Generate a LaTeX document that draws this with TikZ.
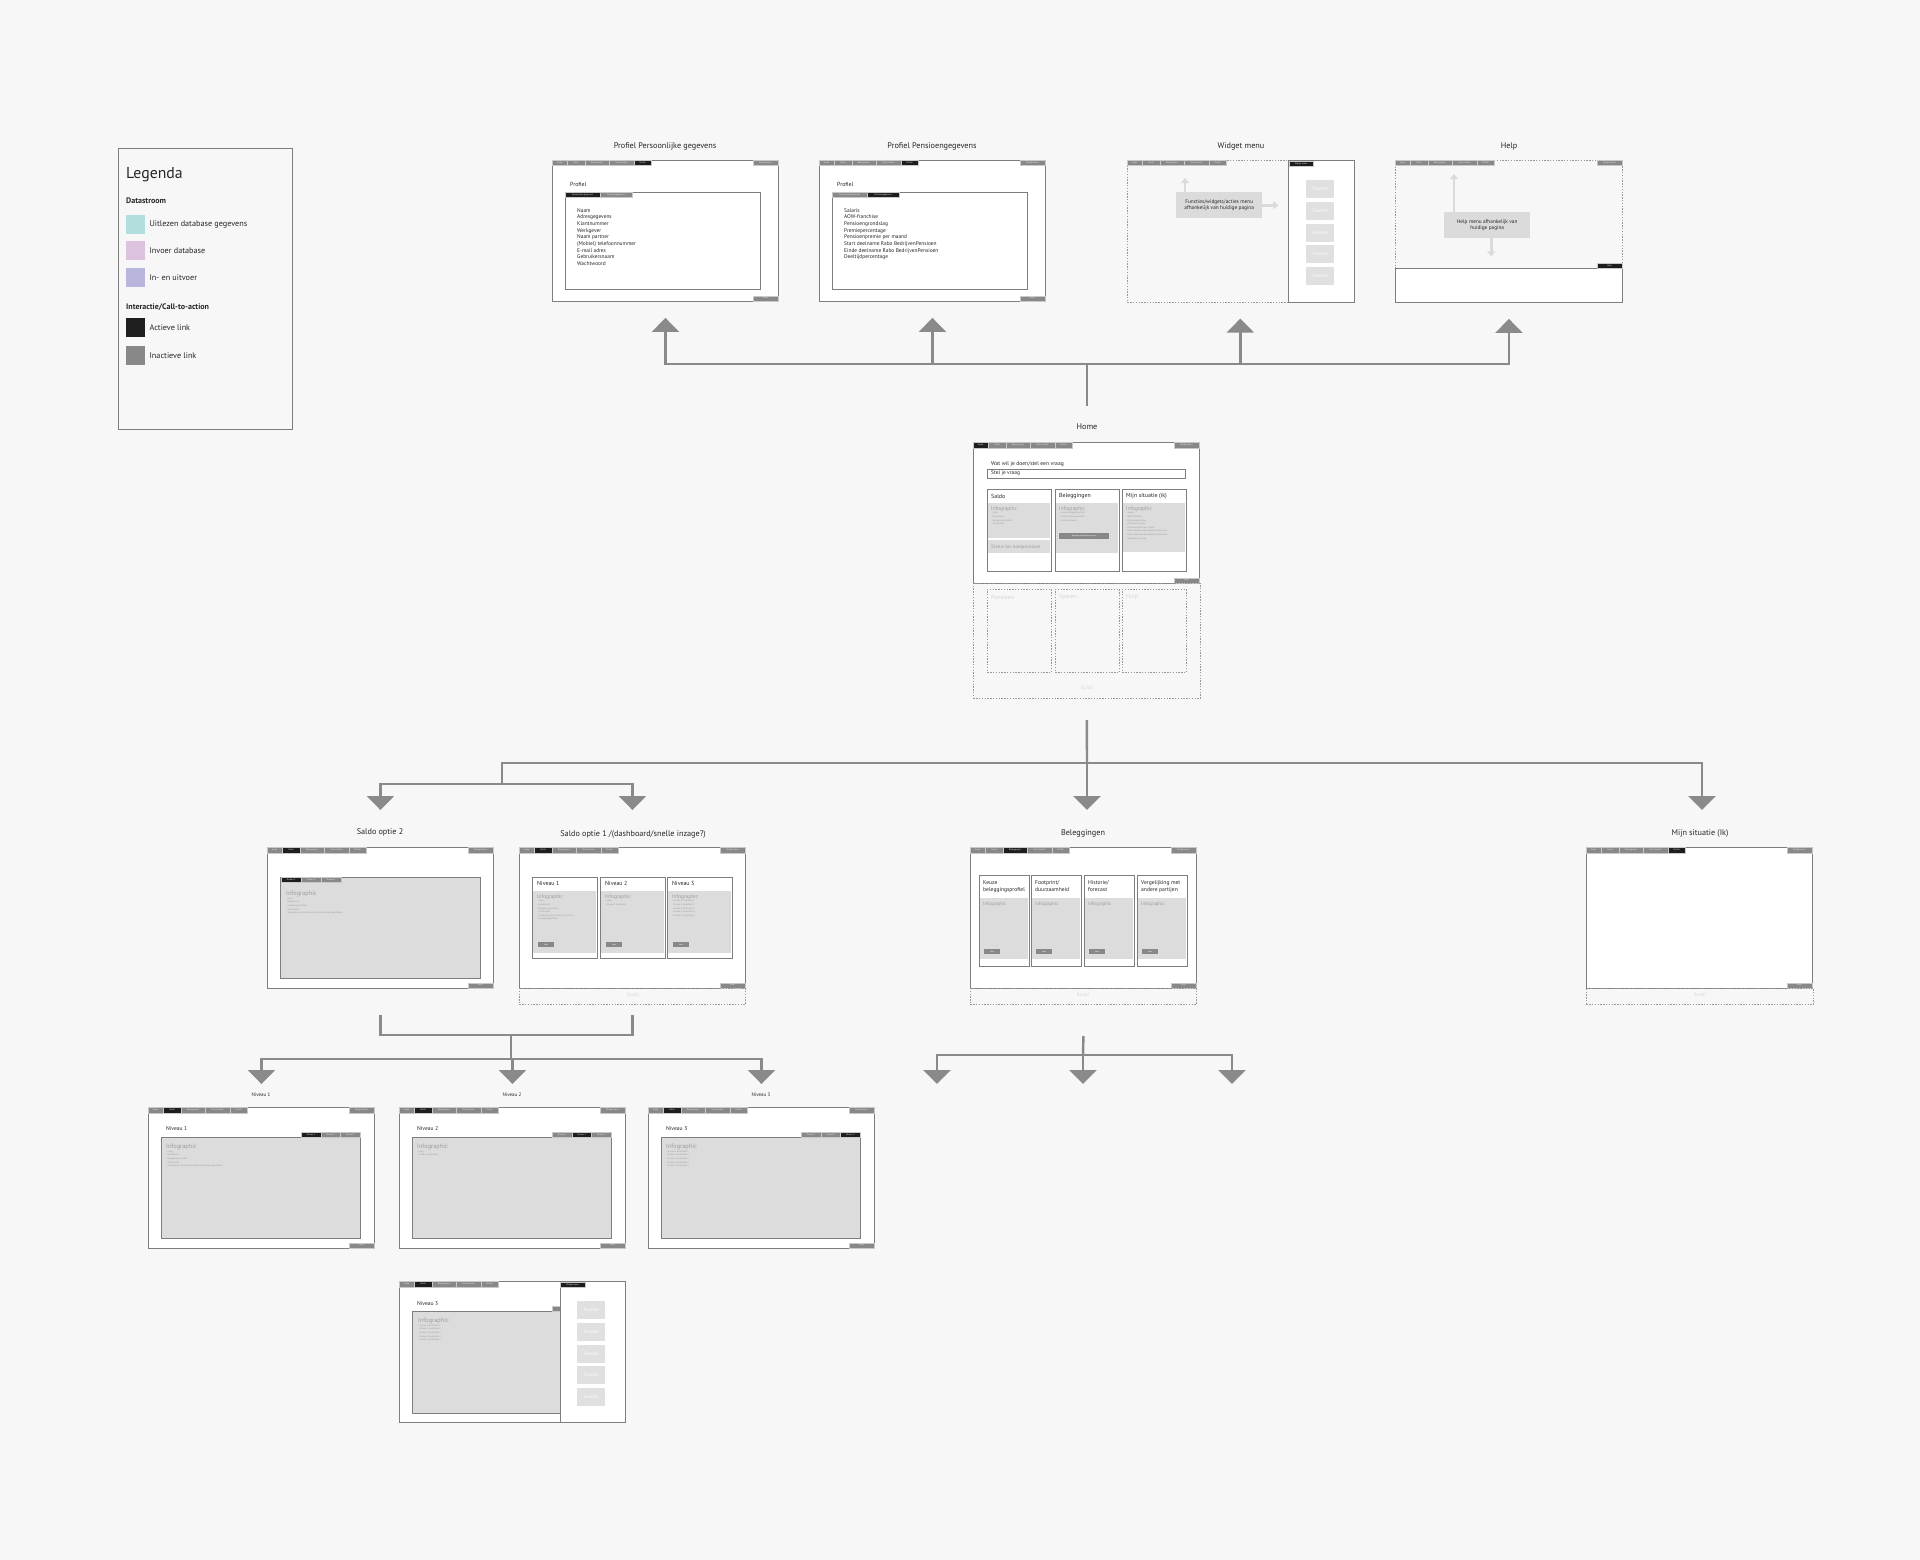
\documentclass[tikz,border=0pt]{standalone}
\usepackage{fontspec}
\setmainfont{PT Sans}
\usetikzlibrary{arrows.meta,positioning}

\definecolor{bgcol}{HTML}{F7F7F7}
\definecolor{framecol}{HTML}{7E7E7E}
\definecolor{tabgrey}{HTML}{888888}
\definecolor{tabdark}{HTML}{1E1E1E}
\definecolor{infocol}{HTML}{DCDCDC}
\definecolor{hintcol}{HTML}{DBDBDB}
\definecolor{funccol}{HTML}{E0E0E0}
\definecolor{flowcol}{HTML}{8A8A8A}
\definecolor{txtcol}{HTML}{262626}
\definecolor{faintcol}{HTML}{9C9C9C}
\definecolor{scrollcol}{HTML}{D4D4D4}
\definecolor{leg1}{HTML}{B3DEDE}
\definecolor{leg2}{HTML}{DDC2DF}
\definecolor{leg3}{HTML}{B8B6DD}

\newcommand{\fs}[2]{\fontsize{#1}{#2}\selectfont}

\tikzset{
  frame/.style={draw=framecol, line width=0.9pt, fill=white, inner sep=0pt,
    minimum width=226pt, minimum height=141pt, anchor=north west},
  panel/.style={draw=framecol, line width=0.9pt, fill=white, inner sep=0pt, anchor=north west},
  scrbox/.style={draw=framecol!80, dash pattern=on 1.4pt off 1.4pt, line width=0.6pt, inner sep=0pt, anchor=north west},
  tab/.style={inner sep=0pt, minimum height=5.5pt, text=white!85!tabgrey, font=\fs{2.2}{2.6},
    draw=white!55!tabgrey, line width=0.15pt, anchor=north west},
  sheet/.style={draw=framecol, line width=0.7pt, inner sep=0pt, anchor=north west},
  grey area/.style={fill=infocol, inner sep=0pt, anchor=north west},
  scrtitle/.style={font=\fs{8.2}{9.8}, text=txtcol, inner sep=0pt},
  subtitle/.style={font=\fs{5}{6}, text=txtcol, inner sep=0pt},
  lbltext/.style={font=\fs{5.9}{7}, text=txtcol, inner sep=0pt, anchor=west},
  plist/.style={font=\fs{5.4}{6.7}, text=txtcol, inner sep=0pt, anchor=north west, align=left},
  info/.style={font=\fs{5.3}{6.4}, text=faintcol, inner sep=0pt, anchor=west},
  bullets/.style={font=\fs{2.3}{3.6}, text=faintcol, inner sep=0pt, anchor=north west, align=left},
  btn/.style={fill=tabgrey, inner sep=0pt, minimum height=5pt, text=white, font=\fs{2}{2.4}, anchor=north west},
  func/.style={fill=funccol, inner sep=0pt, minimum width=28pt, minimum height=18pt,
    text=white, font=\fs{4.8}{5.4}, anchor=north west},
  hint/.style={fill=hintcol, inner sep=0pt, minimum width=86pt, minimum height=26pt,
    font=\fs{5.3}{6.6}, text=txtcol, align=center, anchor=north west},
  hintarrow/.style={draw=hintcol, line width=2.6pt, -{Triangle[width=8pt,length=5pt]}},
  scrolltxt/.style={font=\fs{5}{6}, text=scrollcol, inner sep=0pt},
  flowline/.style={draw=flowcol, line width=2.4pt},
  flow/.style={flowline, -{Triangle[width=27pt,length=14pt]}},
  swatch/.style={minimum size=19pt, inner sep=0pt, anchor=north west},
  legtext/.style={font=\fs{8.2}{9.5}, text=txtcol, anchor=west, inner sep=0pt},
  leghead/.style={font=\fs{8}{9.5}\bfseries, text=txtcol, anchor=west, inner sep=0pt},
}

% tab bar of a screen: name, x, y, active tab (0 = none)
\newcommand{\navbar}[4]{%
  \foreach \lbl/\dx/\w [count=\i] in {Home/0/15,Saldo/15/18,Beleggingen/33/24,Mijn situatie/57/25,Profiel/82/17}{
    \ifnum\i=#4\relax\colorlet{tabfill}{tabdark}\else\colorlet{tabfill}{tabgrey}\fi
    \node[tab, fill=tabfill, minimum width=\w pt] (#1-t\i) at (#2+\dx,#3) {\lbl};
  }}

% screen with tab bar, widget menu and help button
\newcommand{\wscreen}[4]{%
  \node[frame] (#1) at (#2,#3) {};
  \navbar{#1}{#2}{#3}{#4}
  \node[tab, fill=tabgrey, minimum width=25pt, anchor=north east] (#1-wm) at (#2+226,#3) {Widget menu};
  \node[tab, fill=tabgrey, minimum width=25pt, minimum height=5pt, anchor=south east] (#1-hb) at (#2+226,#3+141) {Help};
}

\begin{document}
\begin{tikzpicture}[x=1pt,y=-1pt]
\path[use as bounding box, fill=bgcol] (0,0) rectangle (1920,1560);

% legenda
\node[draw=framecol, line width=0.7pt, inner sep=0pt, minimum width=174pt, minimum height=281pt, anchor=north west] (legend) at (118,148) {};
\node[font=\fs{15.8}{17}, text=txtcol, anchor=west, inner sep=0pt] (leg-title) at (126,175) {Legenda};
\node[leghead] (leg-data) at (126,201) {Datastroom};
\node[leghead] (leg-cta) at (126,307) {Interactie/Call-to-action};
\foreach \nm/\col/\yy/\txt in {read/leg1/215/Uitlezen database gegevens, write/leg2/241/Invoer database, io/leg3/268/In- en uitvoer, act/tabdark/318/Actieve link, inact/tabgrey/346/Inactieve link}{
  \node[swatch, fill=\col] (leg-\nm) at (126,\yy) {};
  \node[legtext, right=4pt of leg-\nm] (leg-\nm-txt) {\txt};
}

% profiel persoonlijk
\node[scrtitle] (pers-lbl) at (665,146) {Profiel Persoonlijke gegevens};
\wscreen{pers}{552}{160}{5}
\node[lbltext] (pers-head) at (570,184) {Profiel};
\node[sheet, minimum width=195pt, minimum height=97pt] (pers-box) at (565,192) {};
\node[tab, fill=tabdark, minimum width=35pt, minimum height=5pt] (pers-tab1) at (565,192) {Persoonlijke gegevens};
\node[tab, fill=tabgrey, minimum width=32pt, minimum height=5pt] (pers-tab2) at (600,192) {Pensioengegevens};
\node[plist] (pers-list) at (577,208) {Naam\\Adresgegevens\\Klantnummer\\Werkgever\\Naam partner\\(Mobiel) telefoonnummer\\E-mail adres\\Gebruikersnaam\\Wachtwoord};

% profiel pensioen
\node[scrtitle] (pens-lbl) at (932,146) {Profiel Pensioengegevens};
\wscreen{pens}{819}{160}{5}
\node[lbltext] (pens-head) at (837,184) {Profiel};
\node[sheet, minimum width=195pt, minimum height=97pt] (pens-box) at (832,192) {};
\node[tab, fill=tabgrey, minimum width=35pt, minimum height=5pt] (pens-tab1) at (832,192) {Persoonlijke gegevens};
\node[tab, fill=tabdark, minimum width=32pt, minimum height=5pt] (pens-tab2) at (867,192) {Pensioengegevens};
\node[plist] (pens-list) at (844,208) {Salaris\\AOW-franchise\\Pensioengrondslag\\Premiepercentage\\Pensioenpremie per maand\\Start deelname Rabo BedrijvenPensioen\\Einde deelname Rabo BedrijvenPensioen\\Deeltijdpercentage};

% widget menu
\node[scrtitle] (wid-lbl) at (1241,146) {Widget menu};
\node[scrbox, minimum width=226pt, minimum height=142pt] (wid) at (1127,160) {};
\navbar{wid}{1127}{160}{0}
\node[panel, minimum width=66pt, minimum height=142pt] (wid-panel) at (1288,160) {};
\node[tab, fill=tabdark, minimum width=24pt] (wid-wm) at (1289,161) {Widget menu};
\foreach \fy [count=\k] in {180,202,224,245,267}
  \node[func] (wid-f\k) at (1306,\fy) {Functie};
\node[hint] (wid-hint) at (1176,192) {Functies/widgets/acties menu\\afhankelijk van huidige pagina};
\draw[hintarrow] ([xshift=9pt]wid-hint.north west) -- ++(0,-14);
\draw[hintarrow] (wid-hint.east) -- ++(16,0);

% help
\node[scrtitle] (help-lbl) at (1509,146) {Help};
\node[scrbox, minimum width=227pt, minimum height=108pt] (help) at (1395,160) {};
\navbar{help}{1395}{160}{0}
\node[tab, fill=tabgrey, minimum width=25pt, anchor=north east] (help-wm) at (1622,160) {Widget menu};
\node[panel, minimum width=227pt, minimum height=34pt] (help-panel) at (1395,268) {};
\node[tab, fill=tabdark, minimum width=25pt, minimum height=4.5pt, anchor=south east] (help-hb) at (1622,268) {Help};
\node[hint] (help-hint) at (1444,212) {Help menu afhankelijk van\\huidige pagina};
\draw[hintarrow] ([xshift=10pt]help-hint.north west) -- ++(0,-38);
\draw[hintarrow] ([xshift=4pt]help-hint.south) -- ++(0,18);

% home
\node[scrtitle] (home-lbl) at (1087,427) {Home};
\wscreen{home}{973}{442}{1}
\node[scrbox, minimum width=227pt, minimum height=115pt] (home-scroll) at (973,583) {};
\node[scrolltxt] (home-scroll-txt) at (1087,688) {Scroll};
\node[lbltext, font=\fs{5.6}{6.6}] (home-ask-lbl) at (991,464) {Wat wil je doen/stel een vraag};
\node[sheet, minimum width=198pt, minimum height=9pt] (home-ask) at (987,469) {};
\node[lbltext, font=\fs{5.4}{6.4}] (home-ask-txt) at (991,473.5) {Stel je vraag};
\foreach \nm/\xx/\ttl in {saldo/987/Saldo, beleg/1055/Beleggingen, mijn/1122/Mijn situatie (ik)}{
  \node[sheet, fill=white, minimum width=64pt, minimum height=82pt] (home-\nm) at (\xx,489) {};
  \node[lbltext] (home-\nm-ttl) at (\xx+4,496) {\ttl};
}
\node[grey area, minimum width=62pt, minimum height=35pt] (home-saldo-g) at (988,503) {};
\node[grey area, minimum width=62pt, minimum height=13pt] (home-saldo-s) at (988,540) {};
\node[info] (home-saldo-i) at (991,509) {Infographic};
\node[bullets] (home-saldo-b) at (991,512) {- Inleg\\- Rendement\\- Beleggingsresultaat\\- Totaal saldo};
\node[info, font=\fs{4.8}{5.6}] (home-saldo-st) at (991,547) {Status tov doelpensioen};
\node[grey area, minimum width=62pt, minimum height=50pt] (home-beleg-g) at (1056,503) {};
\node[info] (home-beleg-i) at (1059,509) {Infographic};
\node[bullets] (home-beleg-b) at (1059,512) {- Huidig beleggingsprofiel\\- Footprint/duurzaamheid\\- Historie/forecast};
\node[btn, minimum width=50pt, minimum height=5.5pt] (home-beleg-btn) at (1059,533) {Beleggingsprofiel aanpassen};
\node[grey area, minimum width=62pt, minimum height=49pt] (home-mijn-g) at (1123,503) {};
\node[info] (home-mijn-i) at (1126,509) {Infographic};
\node[bullets] (home-mijn-b) at (1126,512) {- Salaris\\- AOW-franchise\\- Pensioengrondslag\\- Premiepercentage\\- Pensioenpremie per maand\\- Start deelname Rabo BedrijvenPensioen\\- Einde deelname Rabo BedrijvenPensioen\\- Deeltijdpercentage};
\foreach \nm/\xx/\ttl in {pens/987/Pensioen, spaar/1055/Sparen, hulp/1122/Hulp}{
  \node[scrbox, minimum width=64pt, minimum height=83pt] (home-\nm) at (\xx,589) {};
  \node[lbltext, text=scrollcol] (home-\nm-ttl) at (\xx+4,597) {\ttl};
}

% saldo optie 2
\node[scrtitle] (sal2-lbl) at (380,832) {Saldo optie 2};
\wscreen{sal2}{267}{847}{2}
\node[sheet, fill=infocol, minimum width=200pt, minimum height=101pt] (sal2-box) at (280,877) {};
\foreach \k/\xx in {1/281,2/301,3/321}{
  \ifnum\k=1\relax\colorlet{tabfill}{tabdark}\else\colorlet{tabfill}{tabgrey}\fi
  \node[tab, fill=tabfill, minimum width=20pt, minimum height=5pt] (sal2-n\k) at (\xx,877) {Niveau \k};
}
\node[info, font=\fs{6.3}{7}] (sal2-i) at (286,894) {Infographic};
\node[bullets] (sal2-b) at (286,897.5) {- Inleg\\- Rendement\\- Beleggingsresultaat\\- Totaal saldo\\- Vergelijking met andere partijen en beleggingsprofielen};

% saldo optie 1
\node[scrtitle] (sal1-lbl) at (633,834) {Saldo optie 1 /(dashboard/snelle inzage?)};
\wscreen{sal1}{519}{847}{2}
\node[scrbox, minimum width=226pt, minimum height=16pt] (sal1-scroll) at (519,988) {};
\node[scrolltxt] (sal1-scroll-txt) at (633,995) {Scroll};
\foreach \k/\xx in {1/532,2/600,3/667}{
  \node[sheet, fill=white, minimum width=65pt, minimum height=81pt] (sal1-c\k) at (\xx,877) {};
  \node[grey area, minimum width=63pt, minimum height=62pt] (sal1-g\k) at (\xx+1,891) {};
  \node[lbltext] (sal1-n\k) at (\xx+5,883.5) {Niveau \k};
  \node[info] (sal1-i\k) at (\xx+5,897) {Infographic};
  \node[btn, minimum width=16pt] (sal1-btn\k) at (\xx+6,942) {Meer};
}
\node[bullets] (sal1-b1) at (537,900) {- Inleg\\- Rendement\\- Beleggingsresultaat\\- Totaal saldo\\- Vergelijking met andere partijen en\\\ \ beleggingsprofielen};
\node[bullets] (sal1-b2) at (605,900) {- Inleg\\- Niveau 2 onderdeel};
\node[bullets] (sal1-b3) at (672,900) {- Niveau 3 onderdeel 1\\- Niveau 3 onderdeel 2\\- Niveau 3 onderdeel 3\\- Niveau 3 onderdeel 4\\- Niveau 3 onderdeel 5};

% beleggingen
\node[scrtitle] (bel-lbl) at (1083,833) {Beleggingen};
\wscreen{bel}{970}{847}{3}
\node[scrbox, minimum width=226pt, minimum height=16pt] (bel-scroll) at (970,988) {};
\node[scrolltxt] (bel-scroll-txt) at (1083,995) {Scroll};
\foreach \k/\xx in {1/979,2/1031,3/1084,4/1137}{
  \node[sheet, fill=white, minimum width=50pt, minimum height=91pt] (bel-c\k) at (\xx,875) {};
  \node[grey area, minimum width=48pt, minimum height=61pt] (bel-g\k) at (\xx+1,898) {};
  \node[info, font=\fs{4.8}{5.6}] (bel-i\k) at (\xx+4,904) {Infographic};
  \node[btn, minimum width=16pt] (bel-btn\k) at (\xx+5,949) {Meer};
}
\node[plist, font=\fs{5.6}{7.6}] (bel-n1) at (983,880) {Keuze\\beleggingsprofiel};
\node[plist, font=\fs{5.6}{7.6}] (bel-n2) at (1035,880) {Footprint/\\duurzaamheid};
\node[plist, font=\fs{5.6}{7.6}] (bel-n3) at (1088,880) {Historie/\\forecast};
\node[plist, font=\fs{5.6}{7.6}] (bel-n4) at (1141,880) {Vergelijking met\\andere partijen};

% mijn situatie
\node[scrtitle] (mijn-lbl) at (1700,833) {Mijn situatie (Ik)};
\wscreen{mijn}{1586}{847}{5}
\node[scrbox, minimum width=227pt, minimum height=16pt] (mijn-scroll) at (1586,988) {};
\node[scrolltxt] (mijn-scroll-txt) at (1700,995) {Scroll};

% niveau schermen
\foreach \k/\xx in {1/148,2/399,3/648}{
  \node[subtitle] (niv\k-lbl) at (\xx+113,1095) {Niveau \k};
  \wscreen{niv\k}{\xx}{1107}{2}
  \node[lbltext, font=\fs{5.6}{6.6}] (niv\k-head) at (\xx+18,1129) {Niveau \k};
  \node[sheet, fill=infocol, minimum width=199pt, minimum height=101pt] (niv\k-box) at (\xx+13,1137) {};
  \foreach \j in {1,2,3}{
    \ifnum\j=\k\relax\colorlet{tabfill}{tabdark}\else\colorlet{tabfill}{tabgrey}\fi
    \node[tab, fill=tabfill, minimum width=19.7pt, minimum height=5pt, anchor=south west] (niv\k-n\j) at (\xx+153+19.7*\j-19.7,1137) {Niveau \j};
  }
  \node[info, font=\fs{6.3}{7}] (niv\k-i) at (\xx+18,1147) {Infographic};
}
\node[bullets] (niv1-b) at (166,1150.5) {- Inleg\\- Rendement\\- Beleggingsresultaat\\- Totaal saldo\\- Vergelijking met andere partijen en beleggingsprofielen};
\node[bullets] (niv2-b) at (417,1150.5) {- Inleg\\- Niveau 2 onderdeel};
\node[bullets] (niv3-b) at (666,1150.5) {- Niveau 3 onderdeel 1\\- Niveau 3 onderdeel 2\\- Niveau 3 onderdeel 3\\- Niveau 3 onderdeel 4\\- Niveau 3 onderdeel 5};

% niveau 3 met widget menu
\node[frame] (nivw) at (399,1281) {};
\navbar{nivw}{399}{1281}{2}
\node[lbltext, font=\fs{5.6}{6.6}] (nivw-head) at (417,1304) {Niveau 3};
\node[sheet, fill=infocol, minimum width=148pt, minimum height=102pt] (nivw-box) at (412,1311) {};
\node[tab, fill=tabgrey, minimum width=8pt, minimum height=5pt, anchor=south west] (nivw-n) at (552,1311) {};
\node[info, font=\fs{6.3}{7}] (nivw-i) at (418,1321) {Infographic};
\node[bullets] (nivw-b) at (418,1324.5) {- Niveau 3 onderdeel 1\\- Niveau 3 onderdeel 2\\- Niveau 3 onderdeel 3\\- Niveau 3 onderdeel 4\\- Niveau 3 onderdeel 5};
\node[panel, minimum width=65pt, minimum height=141pt] (nivw-panel) at (560,1281) {};
\node[tab, fill=tabdark, minimum width=25pt, minimum height=5pt] (nivw-wm) at (560,1282) {Widget menu};
\foreach \fy [count=\k] in {1301,1323,1345,1366,1388}
  \node[func] (nivw-f\k) at (577,\fy) {Functie};

% stroom bovenaan
\coordinate (home-up) at (1087,406);
\coordinate (top-hub) at (1087,364);
\draw[flowline] (home-up) -- (top-hub);
\foreach \s in {pers,pens,wid,help-panel}
  \draw[flow] (top-hub) -| ([yshift=-16pt]\s.south);

% stroom midden
\coordinate (mid-hub) at (1087,763);
\coordinate (sal-hub) at (502,763);
\coordinate (sal-split) at (502,784);
\coordinate (mijn-in) at (1702,810);
\draw[flowline] (home-scroll.south |- 0,720) -- (mid-hub);
\draw[flow] (mid-hub) -- ++(0,47);
\draw[flow] (mid-hub) -| (mijn-in);
\draw[flowline] (mid-hub) -- (sal-hub) -- (sal-split);
\draw[flow] (sal-split) -| ([yshift=37pt]sal2.north);
\draw[flow] (sal-split) -| ([yshift=37pt]sal1.north);

% stroom onder saldo
\coordinate (sal-join) at (511,1035);
\coordinate (niv-split) at (511,1059);
\draw[flowline] ([yshift=-26pt]sal2.south) |- (sal-join) -| ([yshift=-26pt]sal1.south);
\draw[flowline] (sal-join) -- (niv-split);
\foreach \k in {1,2,3}
  \draw[flow] (niv-split) -| ([yshift=23pt]niv\k.north);

% stroom onder beleggingen
\coordinate (bel-split) at (1083,1055);
\coordinate (bel-a) at (937,1084);
\coordinate (bel-b) at (1083,1084);
\coordinate (bel-c) at (1232,1084);
\draw[flowline] ([yshift=-47pt]bel.south) -- (bel-split);
\foreach \t in {bel-a,bel-b,bel-c}
  \draw[flow] (bel-split) -| (\t);
\end{tikzpicture}
\end{document}
